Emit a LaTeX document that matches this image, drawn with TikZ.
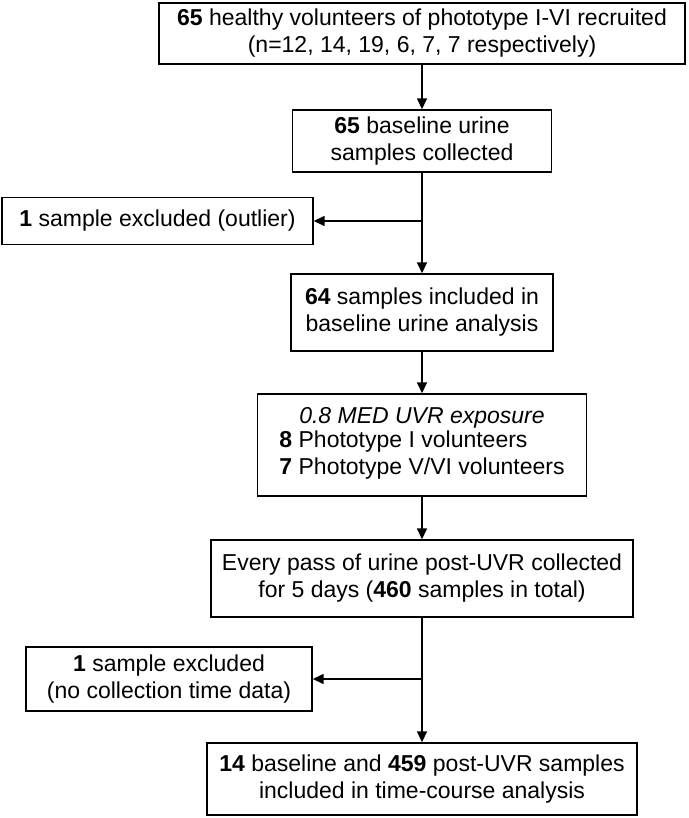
\documentclass[tikz,border=0pt]{standalone}
\usepackage{fontspec}
\setmainfont{Liberation Sans}
\usetikzlibrary{arrows.meta}
\tikzset{
    box/.style={draw, line width=1.4pt, align=center, inner sep=0pt,
        font=\fontsize{23}{27}\selectfont},
    flow/.style={-{Triangle[length=11pt, width=10pt]}, line width=1.5pt}
}
\begin{document}
\begin{tikzpicture}[x=1pt, y=-1pt]
    \useasboundingbox (0,0) rectangle (688,818);

    \node[box, minimum width=526pt, minimum height=61pt](recruit) at (422, 33.5)
        {\textbf{65} healthy volunteers of phototype I-VI recruited\\(n=12, 14, 19, 6, 7, 7 respectively)};
    \node[box, minimum width=259pt, minimum height=62pt](base) at (422, 141)
        {\textbf{65} baseline urine\\samples collected};
    \node[box, minimum width=311pt, minimum height=47pt](excl_1) at (157.5, 221)
        {\textbf{1} sample excluded (outlier)};
    \node[box, minimum width=262pt, minimum height=77pt](incl) at (422, 312.5)
        {\textbf{64} samples included in\\baseline urine analysis};
    \node[box, minimum width=329pt, minimum height=102pt](uvr) at (422, 445)
        {\textit{0.8 MED UVR exposure}\\
         \begin{tabular}{@{}l@{}}\textbf{8} Phototype I volunteers\\\textbf{7} Phototype V/VI volunteers\end{tabular}};
    \node[box, minimum width=422pt, minimum height=77pt](pass) at (422, 578.5)
        {Every pass of urine post-UVR collected\\for 5 days (\textbf{460} samples in total)};
    \node[box, minimum width=286pt, minimum height=64pt](excl_2) at (169, 679)
        {\textbf{1} sample excluded\\(no collection time data)};
    \node[box, minimum width=430pt, minimum height=72pt](final) at (422, 779)
        {\textbf{14} baseline and \textbf{459} post-UVR samples\\included in time-course analysis};

    \path[flow] (recruit) edge (base);
    \path[flow] (base) edge (incl);
    \path[flow] (base.south |- excl_1.east) edge (excl_1.east);
    \path[flow] (incl) edge (uvr);
    \path[flow] (uvr) edge (pass);
    \path[flow] (pass) edge (final);
    \path[flow] (pass.south |- excl_2.east) edge (excl_2.east);
\end{tikzpicture}
\end{document}
